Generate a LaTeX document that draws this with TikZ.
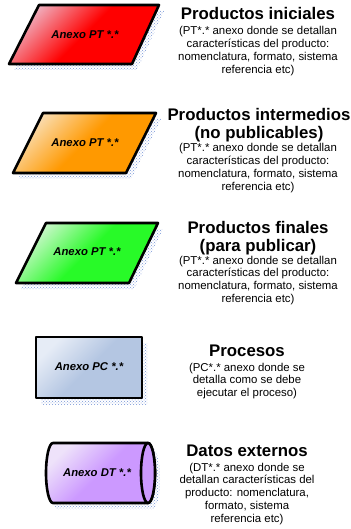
\documentclass[tikz,border=0pt]{standalone}
\usepackage{fontspec}
\setmainfont{Liberation Sans}
\usetikzlibrary{positioning,patterns}

\definecolor{redlight}{RGB}{240,175,190}
\definecolor{orangemain}{RGB}{255,153,0}
\definecolor{orangelight}{RGB}{250,222,180}
\definecolor{greenmain}{RGB}{40,250,40}
\definecolor{greenlight}{RGB}{205,248,205}
\definecolor{bluemain}{RGB}{180,198,226}
\definecolor{bluelight}{RGB}{230,236,246}
\definecolor{purplemain}{RGB}{204,153,255}
\definecolor{purplelight}{RGB}{238,226,250}
\definecolor{dotblue}{RGB}{120,150,215}

\tikzset{
  outline/.style={draw=black, line width=2.6pt, line join=round},
  shadowfill/.style={pattern=crosshatch dots, pattern color=dotblue},
  fillshade/.style 2 args={top color=#1, bottom color=#2, middle color=#2, shading angle=45},
  annex/.style={font=\fontsize{11.3}{13}\selectfont\bfseries\itshape, inner sep=0pt},
  headtext/.style={font=\fontsize{16.8}{18}\selectfont\bfseries, align=center, inner sep=0pt, anchor=base},
  bodytext/.style={font=\fontsize{11.4}{12.8}\selectfont, align=center, inner sep=0pt, anchor=base},
}

\begin{document}
\begin{tikzpicture}[x=1pt,y=-1pt]
\useasboundingbox (0,0) rectangle (350,529);

% text nodes are placed at the baseline of their last line

% Productos iniciales (red parallelogram)
\fill[shadowfill, shift={(5,6)}] (39,5) -- (159,5) -- (132,64) -- (9,64) -- cycle;
\shade[fillshade={redlight}{red}] (39,5) -- (159,5) -- (132,64) -- (9,64) -- cycle;
\draw[outline] (39,5) -- (159,5) -- (132,64) -- (9,64) -- cycle;
\node[annex] (pt1) at (85,35) {Anexo PT *.*};

\node[headtext] (ini) at (258,20) {Productos iniciales};
\node[bodytext] (initxt) at (258,73.4) {(PT*.* anexo donde se detallan\\caracter\'isticas del producto:\\nomenclatura, formato, sistema\\referencia etc)};

% Productos intermedios (orange parallelogram)
\fill[shadowfill, shift={(5,6)}] (43,113) -- (156,113) -- (126,173) -- (13,173) -- cycle;
\shade[fillshade={orangelight}{orangemain}] (43,113) -- (156,113) -- (126,173) -- (13,173) -- cycle;
\draw[outline] (43,113) -- (156,113) -- (126,173) -- (13,173) -- cycle;
\node[annex] (pt2) at (85,143) {Anexo PT *.*};

\node[headtext] (inter) at (259,139) {Productos intermedios\\(no publicables)};
\node[bodytext] (intertxt) at (258,190.4) {(PT*.* anexo donde se detallan\\caracter\'isticas del producto:\\nomenclatura, formato, sistema\\referencia etc)};

% Productos finales (green parallelogram)
\fill[shadowfill, shift={(5,6)}] (46,223) -- (158,223) -- (129,283) -- (16,283) -- cycle;
\shade[fillshade={greenlight}{greenmain}] (46,223) -- (158,223) -- (129,283) -- (16,283) -- cycle;
\draw[outline] (46,223) -- (158,223) -- (129,283) -- (16,283) -- cycle;
\node[annex] (pt3) at (87,252) {Anexo PT *.*};

\node[headtext] (fin) at (258,251) {Productos finales\\(para publicar)};
\node[bodytext] (fintxt) at (258,302.4) {(PT*.* anexo donde se detallan\\caracter\'isticas del producto:\\nomenclatura, formato, sistema\\referencia etc)};

% Procesos (rectangle)
\fill[shadowfill, shift={(5,6)}] (36,337) rectangle (142,398);
\shade[fillshade={bluelight}{bluemain}] (36,337) rectangle (142,398);
\draw[outline] (36,337) rectangle (142,398);
\node[annex] (pc) at (89,367) {Anexo PC *.*};

\node[headtext] (proc) at (247,356) {Procesos};
\node[bodytext] (proctxt) at (247,396.6) {(PC*.* anexo donde se\\detalla como se debe\\ejecutar el proceso)};

% Datos externos (cylinder)
\fill[shadowfill, shift={(5,6)}] (53,443) -- (148,443) arc[start angle=270, end angle=450, x radius=7, y radius=30] -- (53,503) arc[start angle=90, end angle=270, x radius=7, y radius=30] -- cycle;
\shade[fillshade={purplelight}{purplemain}] (53,443) -- (148,443) arc[start angle=270, end angle=450, x radius=7, y radius=30] -- (53,503) arc[start angle=90, end angle=270, x radius=7, y radius=30] -- cycle;
\draw[outline] (53,443) -- (148,443) arc[start angle=270, end angle=450, x radius=7, y radius=30] -- (53,503) arc[start angle=90, end angle=270, x radius=7, y radius=30] -- cycle;
\draw[outline, fill=purplemain] (148,473) ellipse[x radius=7, y radius=30];
\node[annex] (dt) at (97,473) {Anexo DT *.*};

\node[headtext] (ext) at (247,456) {Datos externos};
\node[bodytext] (exttxt) at (247,522.2) {(DT*.* anexo donde se\\detallan caracter\'isticas del\\producto: nomenclatura,\\formato, sistema\\referencia etc)};

\end{tikzpicture}
\end{document}
